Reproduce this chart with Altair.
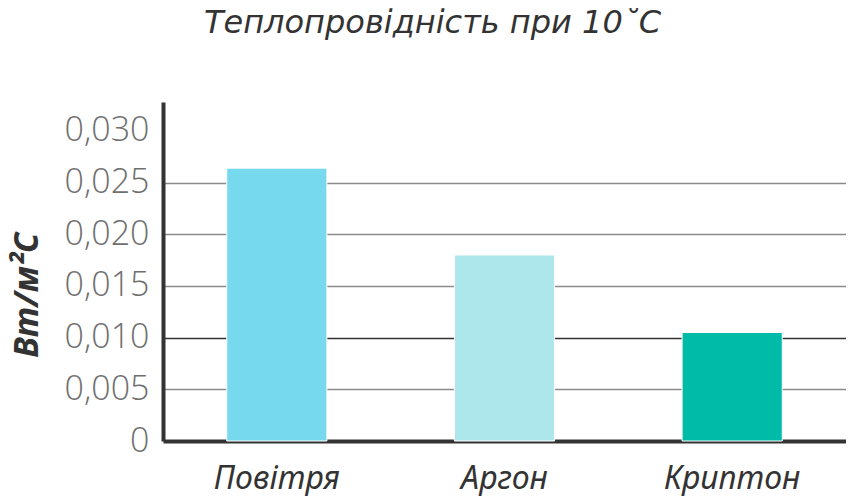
import altair as alt
import pandas as pd

categories = ["Повітря", "Аргон", "Криптон"]
values = [0.0264, 0.0180, 0.0105]
colors = ["#77D9EE", "#ADE7EB", "#00BBA7"]
tick_values = [0, 0.005, 0.010, 0.015, 0.020, 0.025, 0.030]

df = pd.DataFrame({"gas": categories, "k": values, "c": colors})

bars = alt.Chart(df).mark_bar(stroke="white", strokeWidth=1).encode(
    x=alt.X(
        "gas:N",
        sort=categories,
        scale=alt.Scale(paddingInner=0.56, paddingOuter=0.28),
        axis=alt.Axis(
            title=None,
            labelAngle=0,
            labelFont="Noto Sans",
            labelFontStyle="italic",
            labelFontSize=32,
            labelColor="#333333",
            labelPadding=22,
            ticks=False,
            domainColor="#333333",
            domainWidth=4,
        ),
    ),
    y=alt.Y(
        "k:Q",
        scale=alt.Scale(domain=[0, 0.0328], nice=False),
        axis=alt.Axis(
            title="Вт/м²С",
            titleFont="Noto Sans",
            titleFontStyle="italic",
            titleFontWeight="bold",
            titleFontSize=34,
            titleColor="#333333",
            titleAngle=-90,
            titleAlign="center",
            titleBaseline="middle",
            titleX=-136,
            titleY=193,
            values=tick_values,
            labelExpr="datum.value == 0 ? '0' : replace(format(datum.value, '.3f'), '.', ',')",
            labelFont="Open Sans",
            labelFontWeight=300,
            labelFontSize=34,
            labelColor="#6f6f6f",
            labelPadding=14,
            ticks=False,
            grid=True,
            gridColor=alt.condition("abs(datum.value - 0.01) < 0.0001", alt.value("#333333"), alt.value("#8a8a8a")),
            gridOpacity=alt.condition("datum.value == 0 || datum.value > 0.029", alt.value(0), alt.value(1)),
            gridWidth=1.5,
            domainColor="#333333",
            domainWidth=4,
        ),
    ),
    color=alt.Color("c:N", scale=None, legend=None),
)

chart = bars.properties(
    width=683,
    height=339,
    autosize=alt.AutoSizeParams(type="none"),
    padding={"left": 155, "top": 94, "right": 0, "bottom": 55},
    title=alt.TitleParams(
        "Теплопровідність при 10˚С",
        font="DejaVu Sans",
        fontStyle="oblique",
        fontWeight="normal",
        fontSize=32,
        color="#333333",
        anchor="middle",
        dx=-72,
        offset=37,
        baseline="alphabetic",
    ),
).configure_view(stroke=None)

chart.save("out.html", embed_options={"renderer": "svg", "actions": False})
